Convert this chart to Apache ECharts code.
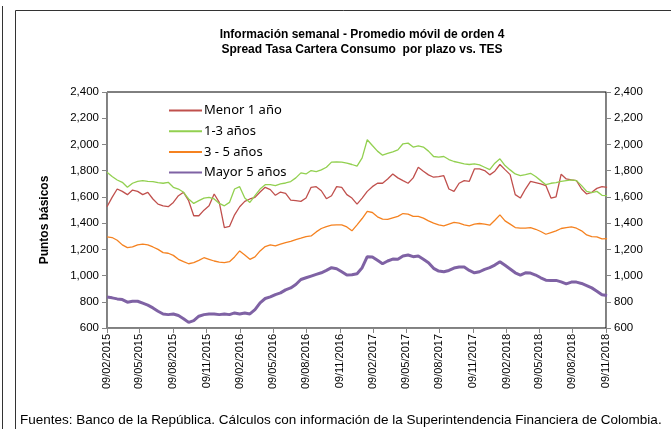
<!DOCTYPE html>
<html>
<head>
<meta charset="utf-8">
<script src="https://cdn.jsdelivr.net/npm/echarts@6/dist/echarts.min.js"></script>
<style>
  html, body { margin: 0; padding: 0; background: #fff; }
  #chart { width: 671px; height: 429px; }
</style>
</head>
<body>
<div id="chart"></div>
<script>
  // one reading every two weeks, first one on 09/02/2015
  var startDate = [2015, 2, 9];
  var stepDays = 14;

  var menor1 = [
    1525, 1596, 1660, 1642, 1617, 1652, 1642, 1617, 1635, 1584,
    1545, 1532, 1525, 1558, 1609, 1635, 1571, 1456, 1456, 1499,
    1532, 1622, 1558, 1366, 1375, 1463, 1525, 1566, 1584, 1596,
    1637, 1673, 1655, 1612, 1637, 1627, 1576, 1571, 1566, 1591,
    1673, 1678, 1647, 1586, 1609, 1678, 1673, 1617, 1591, 1545,
    1591, 1642, 1678, 1704, 1704, 1737, 1775, 1745, 1724, 1704,
    1745, 1826, 1796, 1768, 1750, 1755, 1762, 1660, 1642, 1704,
    1724, 1719, 1813, 1813, 1801, 1768, 1796, 1847, 1808, 1770,
    1617, 1591, 1660, 1719, 1709, 1699, 1686, 1591, 1601, 1773,
    1737, 1729, 1724, 1660, 1622, 1635, 1665, 1678, 1673
  ];
  var anios1a3 = [
    1788, 1755, 1729, 1711, 1673, 1704, 1719, 1724, 1719, 1717,
    1709, 1704, 1711, 1673, 1660, 1635, 1584, 1550, 1571, 1591,
    1596, 1584, 1550, 1532, 1558, 1660, 1678, 1591, 1558, 1609,
    1660, 1693, 1693, 1686, 1699, 1706, 1717, 1745, 1783, 1775,
    1801, 1793, 1806, 1826, 1865, 1867, 1865, 1857, 1847, 1834,
    1898, 2036, 1992, 1949, 1918, 1931, 1944, 1959, 2005, 2010,
    1980, 1990, 1980, 1949, 1908, 1903, 1908, 1885, 1870, 1862,
    1852, 1847, 1852, 1844, 1826, 1808, 1857, 1890, 1839, 1806,
    1775, 1762, 1770, 1780, 1755, 1724, 1693, 1704, 1709, 1719,
    1724, 1729, 1724, 1686, 1642, 1632, 1642, 1612, 1609
  ];
  var anios3a5 = [
    1295, 1290, 1269, 1234, 1213, 1218, 1234, 1239, 1234, 1218,
    1200, 1175, 1170, 1154, 1124, 1106, 1090, 1098, 1116, 1136,
    1124, 1111, 1103, 1098, 1106, 1142, 1188, 1157, 1124, 1142,
    1188, 1221, 1234, 1226, 1239, 1251, 1261, 1274, 1285, 1297,
    1302, 1333, 1359, 1374, 1384, 1387, 1387, 1371, 1341, 1387,
    1435, 1489, 1481, 1448, 1430, 1428, 1440, 1451, 1473, 1468,
    1451, 1451, 1438, 1417, 1400, 1387, 1379, 1392, 1405, 1400,
    1387, 1379, 1392, 1397, 1392, 1384, 1422, 1463, 1417, 1392,
    1366, 1361, 1361, 1366, 1353, 1336, 1315, 1328, 1341, 1359,
    1366, 1371, 1361, 1341, 1310, 1297, 1295, 1280, 1282
  ];
  var mayor5 = [
    837, 830, 822, 817, 797, 804, 804, 789, 774, 753,
    728, 707, 702, 707, 695, 671, 643, 656, 690, 702,
    707, 707, 702, 707, 702, 715, 707, 715, 707, 740,
    792, 825, 837, 855, 868, 891, 906, 932, 970, 983,
    996, 1009, 1021, 1039, 1060, 1052, 1029, 1004, 1006, 1014,
    1060, 1144, 1142, 1116, 1090, 1111, 1126, 1124, 1149, 1157,
    1144, 1149, 1124, 1098, 1055, 1034, 1029, 1039, 1057, 1065,
    1065, 1039, 1021, 1029, 1047, 1060, 1080, 1106, 1078, 1050,
    1021, 1004, 1021, 1019, 1004, 983, 965, 963, 963, 952,
    937, 950, 950, 940, 924, 906, 881, 853, 848
  ];

  var tickLabels = [
    '09/02/2015', '09/05/2015', '09/08/2015', '09/11/2015',
    '09/02/2016', '09/05/2016', '09/08/2016', '09/11/2016',
    '09/02/2017', '09/05/2017', '09/08/2017', '09/11/2017',
    '09/02/2018', '09/05/2018', '09/08/2018', '09/11/2018'
  ];

  var DAY = 86400000;
  var t0 = Date.UTC(startDate[0], startDate[1] - 1, startDate[2]);

  // x is measured in days since the first reading
  var tickDays = tickLabels.map(function (s) {
    var p = s.split('/');
    return Math.round((Date.UTC(+p[2], +p[1] - 1, +p[0]) - t0) / DAY);
  });

  function pairs(values) {
    return values.map(function (v, i) {
      return [i * stepDays, v];
    });
  }

  function thousands(v) {
    return String(v).replace(/\B(?=(\d{3})+(?!\d))/g, ',');
  }

  var axisGray = '#868686';
  var yLabel = {
    fontFamily: 'Liberation Sans',
    fontSize: 11.5,
    color: '#000',
    margin: 8,
    formatter: thousands
  };

  var chart = echarts.init(document.getElementById('chart'));

  chart.setOption({
    animation: false,
    backgroundColor: '#fff',
    title: {
      text: 'Información semanal - Promedio móvil de orden 4\nSpread Tasa Cartera Consumo  por plazo vs. TES',
      left: 357,
      top: 22,
      textAlign: 'center',
      textStyle: {
        fontFamily: 'Liberation Sans',
        fontSize: 12,
        fontWeight: 'bold',
        lineHeight: 15,
        color: '#000'
      }
    },
    legend: {
      orient: 'vertical',
      left: 163,
      top: 99,
      itemWidth: 33,
      itemHeight: 14,
      itemGap: 7.7,
      itemStyle: {opacity: 0},
      textStyle: {
        fontFamily: 'Noto Sans',
        fontSize: 13,
        color: '#000',
        padding: [0, 0, 0, -3]
      },
      data: ['Menor 1 año', '1-3 años', '3 - 5 años', 'Mayor 5 años']
    },
    grid: {
      left: 107,
      right: 65,
      top: 92,
      bottom: 101,
      show: true,
      borderColor: '#000',
      borderWidth: 1
    },
    xAxis: {
      type: 'value',
      min: 0,
      max: tickDays[tickDays.length - 1],
      axisLine: {lineStyle: {color: axisGray}},
      axisTick: {show: true, customValues: tickDays, length: 5, lineStyle: {color: axisGray}},
      axisLabel: {
        customValues: tickDays,
        rotate: 90,
        fontFamily: 'Liberation Sans',
        fontSize: 11,
        color: '#000',
        margin: 6,
        formatter: function (v) {
          return tickLabels[tickDays.indexOf(v)];
        }
      },
      splitLine: {show: false}
    },
    yAxis: [
      {
        type: 'value',
        min: 600,
        max: 2400,
        interval: 200,
        axisLine: {show: true, lineStyle: {color: axisGray}},
        axisTick: {show: true, length: 5, lineStyle: {color: axisGray}},
        axisLabel: yLabel,
        splitLine: {show: false}
      },
      {
        type: 'value',
        position: 'right',
        min: 600,
        max: 2400,
        interval: 200,
        axisLine: {show: true, lineStyle: {color: axisGray}},
        axisTick: {show: true, length: 5, lineStyle: {color: axisGray}},
        axisLabel: yLabel,
        splitLine: {show: false}
      }
    ],
    series: [
      {
        name: 'Menor 1 año',
        type: 'line',
        symbol: 'none',
        data: pairs(menor1),
        color: '#C0504D',
        lineStyle: {width: 1.3, color: '#C0504D'}
      },
      {
        name: '1-3 años',
        type: 'line',
        symbol: 'none',
        data: pairs(anios1a3),
        color: '#92D050',
        lineStyle: {width: 1.3, color: '#92D050'}
      },
      {
        name: '3 - 5 años',
        type: 'line',
        symbol: 'none',
        data: pairs(anios3a5),
        color: '#F58220',
        lineStyle: {width: 1.3, color: '#F58220'}
      },
      {
        name: 'Mayor 5 años',
        type: 'line',
        symbol: 'none',
        data: pairs(mayor5),
        color: '#7F62A4',
        lineStyle: {width: 3, color: '#7F62A4'}
      }
    ],
    graphic: [
      {type: 'line', shape: {x1: 2.5, y1: 6, x2: 2.5, y2: 429}, style: {stroke: '#333', lineWidth: 1}},
      {type: 'line', shape: {x1: 15.5, y1: 10.5, x2: 15.5, y2: 429}, style: {stroke: '#333', lineWidth: 1}},
      {type: 'line', shape: {x1: 15.5, y1: 10.5, x2: 671, y2: 10.5}, style: {stroke: '#333', lineWidth: 1}},
      {
        type: 'text',
        x: 45,
        y: 220,
        rotation: Math.PI / 2,
        style: {
          text: 'Puntos básicos',
          fontFamily: 'Liberation Sans',
          fontSize: 12,
          fontWeight: 'bold',
          fill: '#000',
          align: 'center',
          verticalAlign: 'middle'
        }
      },
      {
        type: 'text',
        left: 20,
        top: 413,
        style: {
          text: 'Fuentes: Banco de la República. Cálculos con información de la Superintendencia Financiera de Colombia.',
          fontFamily: 'Liberation Sans',
          fontSize: 13.5,
          fill: '#000'
        }
      }
    ]
  });
</script>
</body>
</html>
